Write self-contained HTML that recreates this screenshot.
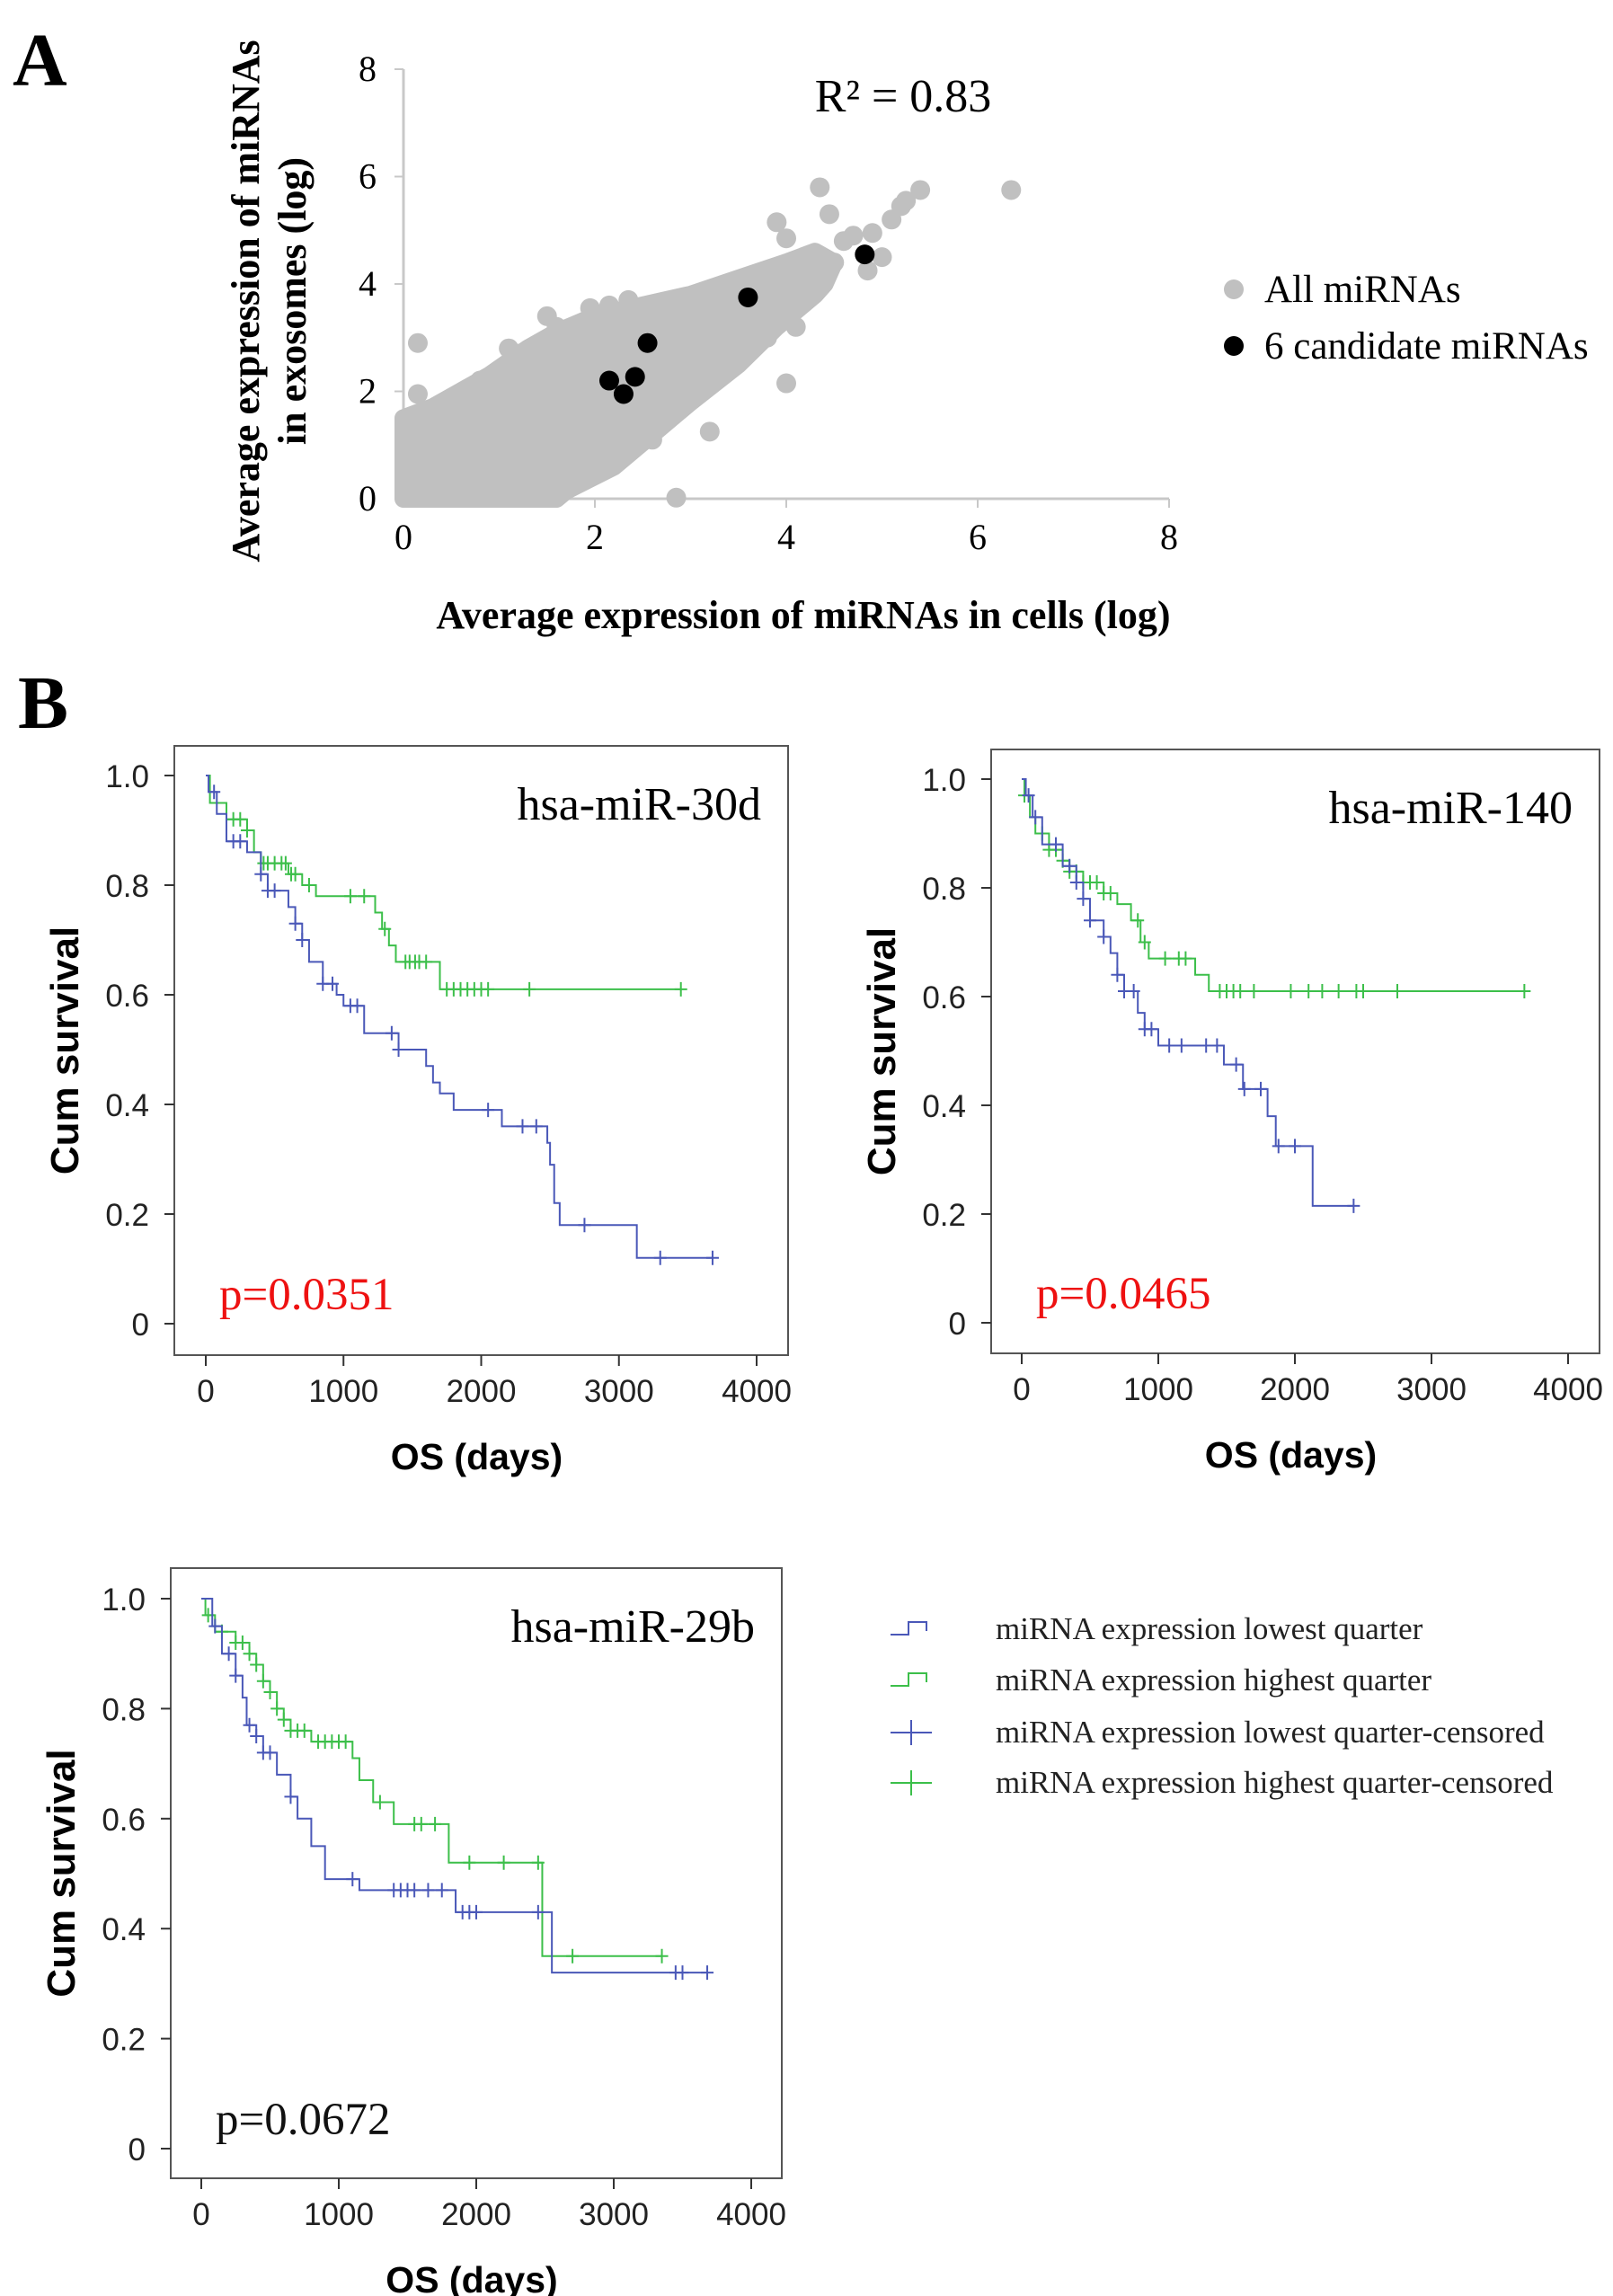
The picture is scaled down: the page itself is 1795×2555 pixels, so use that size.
<!DOCTYPE html>
<html><head><meta charset="utf-8">
<style>
html,body{margin:0;padding:0;background:#fff;}
svg{display:block;}
.serif{font-family:"Liberation Serif","Times New Roman",serif;}
.sans{font-family:"Liberation Sans",Arial,sans-serif;}
</style></head>
<body>
<svg id="fig" width="1795" height="2555" viewBox="0 0 1795 2555" xmlns="http://www.w3.org/2000/svg">
  <rect x="0" y="0" width="1795" height="2555" fill="#fff"/>
  <text x="14" y="95" class="serif" font-size="84" font-weight="bold">A</text>
  <text x="20" y="810" class="serif" font-size="84" font-weight="bold">B</text>
  <g id="scatter"></g>
  <g id="km1"></g>
  <g id="km2"></g>
  <g id="km3"></g>
  <g id="legendB"></g>
</svg>
<script>
const NS="http://www.w3.org/2000/svg";
// ---------- Scatter data ----------
const scatterTicks=[0,2,4,6,8];
const denseHullX=[0,0,0.3,0.9,1.3,1.6,2.0,2.5,3.0,3.5,4.0,4.3,4.5,4.4,4.3,3.9,3.5,3.0,2.6,2.2,1.7,1.6];
const denseHullY=[0,1.5,1.7,2.3,2.8,3.1,3.4,3.6,3.8,4.1,4.4,4.6,4.4,4.0,3.8,3.2,2.5,1.8,1.2,0.6,0.15,0];
const allX=[0.15,0.15,2.85,3.2,4.0,4.35,5.4,6.35,5.2,5.1,4.45,3.9,4.0,4.9,5.0,4.85,4.5,1.5,1.95,2.15,2.35,1.2,0.1,1.6,2.6,2.2,3.3,3.6,1.1,1.6,0.5,0.8,1.0,2.8,3.0,3.4,4.2,4.6,1.8,2.0,0.6,0.3,1.4,2.4,3.1,0.2,0.9,1.3,4.7,5.25,3.9,3.5,2.9,2.5,2.1,1.9,4.1,3.8,2.7,1.75];
const allY=[2.9,1.95,0.02,1.25,2.15,5.8,5.75,5.75,5.45,5.2,5.3,5.15,4.85,4.95,4.5,4.25,4.4,3.4,3.55,3.6,3.7,2.7,1.4,2.1,1.1,1.25,3.7,4.0,2.8,3.2,1.8,2.2,2.4,2.4,3.0,3.2,4.2,4.8,2.6,3.3,0.2,0.1,0.4,1.6,2.0,1.2,1.0,0.8,4.9,5.55,3.6,2.9,2.1,1.6,1.0,0.6,3.2,3.0,1.4,0.3];
const candX=[2.15,2.3,2.42,2.55,3.6,4.82];
const candY=[2.2,1.95,2.27,2.9,3.75,4.55];

// ---------- KM data ----------
const km1GreenT=[0,30,150,300,350,400,600,700,800,1230,1280,1330,1380,1420,1700,3450];
const km1GreenS=[1.0,0.95,0.92,0.90,0.86,0.84,0.82,0.80,0.78,0.75,0.72,0.69,0.66,0.66,0.61,0.61];
const km1GreenC=[200,250,300,420,450,500,550,580,620,650,750,1050,1150,1300,1450,1480,1520,1550,1600,1750,1800,1850,1900,1950,2000,2050,2350,3450];
const km1BlueT=[0,20,80,150,300,400,450,600,650,700,750,850,950,1000,1150,1400,1600,1650,1700,1800,2150,2480,2500,2530,2570,3130,3680];
const km1BlueS=[1.0,0.97,0.93,0.88,0.86,0.82,0.79,0.76,0.73,0.70,0.66,0.62,0.60,0.58,0.53,0.50,0.47,0.44,0.42,0.39,0.36,0.33,0.29,0.22,0.18,0.12,0.12];
const km1BlueC=[60,200,250,400,450,500,650,700,850,920,1050,1100,1350,1400,2050,2300,2400,2750,3300,3680];

const km2GreenT=[0,20,60,100,200,300,350,450,600,700,800,870,930,1270,1370,3680];
const km2GreenS=[1.0,0.97,0.93,0.90,0.87,0.85,0.83,0.81,0.79,0.77,0.74,0.70,0.67,0.64,0.61,0.61];
const km2GreenC=[20,150,200,250,300,350,400,450,500,550,600,650,850,900,1050,1150,1200,1450,1500,1550,1600,1700,1970,2100,2200,2320,2450,2500,2750,3680];
const km2BlueT=[0,30,80,150,300,400,450,500,600,650,700,750,850,900,1000,1480,1620,1800,1860,2130,2430];
const km2BlueS=[1.0,0.97,0.93,0.88,0.84,0.81,0.78,0.74,0.71,0.68,0.64,0.61,0.57,0.54,0.51,0.475,0.43,0.38,0.325,0.215,0.215];
const km2BlueC=[50,100,250,350,400,450,500,600,700,750,820,900,950,1080,1170,1350,1430,1570,1630,1750,1880,2000,2430];

const km3GreenT=[0,30,100,250,350,400,450,500,550,600,650,800,1100,1150,1250,1400,1800,2480,3350];
const km3GreenS=[1.0,0.97,0.94,0.92,0.90,0.88,0.85,0.83,0.80,0.78,0.76,0.74,0.71,0.67,0.63,0.59,0.52,0.35,0.35];
const km3GreenC=[50,150,250,300,350,400,450,500,550,600,650,700,750,850,900,950,1000,1050,1300,1550,1600,1700,1950,2200,2450,2700,3350];
const km3BlueT=[0,80,150,250,300,330,400,450,550,650,700,800,900,1150,1850,2550,3680];
const km3BlueS=[1.0,0.95,0.90,0.86,0.82,0.77,0.75,0.72,0.68,0.64,0.60,0.55,0.49,0.47,0.43,0.32,0.32];
const km3BlueC=[100,200,250,350,400,450,500,650,1100,1400,1450,1500,1550,1650,1750,1900,1950,2000,2450,3450,3500,3680];

const kmXTicks=[0,1000,2000,3000,4000];
const kmYTicks=[0,0.2,0.4,0.6,0.8,1.0];
const kmYTickLabels=["0","0.2","0.4","0.6","0.8","1.0"];

function mk(tag,attrs,parent){const e=document.createElementNS(NS,tag);for(const k in attrs)e.setAttribute(k,attrs[k]);parent.appendChild(e);return e;}

// ---------- Scatter ----------
(function(){
  const g=document.getElementById('scatter');
  const X0=449,X1=1301,Y0=555,Y1=77;
  const sx=v=>X0+(X1-X0)*v/8, sy=v=>Y0+(Y1-Y0)*v/8;
  let ax=mk('line',{x1:X0,y1:Y0,x2:X1,y2:Y0,stroke:'#c8c8c8','stroke-width':3},g);
  
  
  let ay=mk('line',{x1:X0,y1:Y0,x2:X0,y2:Y1,stroke:'#c8c8c8','stroke-width':3},g);
  
  
  scatterTicks.forEach(t=>{
    let tk=mk('line',{x1:sx(t),y1:Y0,x2:sx(t),y2:Y0+10,stroke:'#c8c8c8','stroke-width':2},g);
    
    
    let tl=mk('text',{x:sx(t),y:Y0+56,'text-anchor':'middle','font-size':40,class:'serif'},g);tl.textContent=t;
    
    
    let tk2=mk('line',{x1:X0-10,y1:sy(t),x2:X0,y2:sy(t),stroke:'#c8c8c8','stroke-width':2},g);
    
    
    let tl2=mk('text',{x:X0-30,y:sy(t)+13,'text-anchor':'end','font-size':40,class:'serif'},g);tl2.textContent=t;
    
    
  });
  const pts=denseHullX.map((v,i)=>sx(v)+','+sy(denseHullY[i])).join(' ');
  let hull=mk('polygon',{points:pts,fill:'#c0c0c0',stroke:'#c0c0c0','stroke-width':20,'stroke-linejoin':'round'},g);
  
  
  allX.forEach((v,i)=>{
    let c=mk('circle',{cx:sx(v),cy:sy(allY[i]),r:11,fill:'#c0c0c0'},g);
    
    
  });
  candX.forEach((v,i)=>{
    let c=mk('circle',{cx:sx(v),cy:sy(candY[i]),r:11,fill:'#000'},g);
    
    
  });
  let r2=mk('text',{x:1005,y:124,'text-anchor':'middle','font-size':52,class:'serif'},g);r2.textContent='R² = 0.83';
  
  
  let xt=mk('text',{x:894,y:699,'text-anchor':'middle','font-size':44,'font-weight':'bold',class:'serif'},g);xt.textContent='Average expression of  miRNAs in cells (log)';
  
  
  let yt1=mk('text',{x:0,y:0,'text-anchor':'middle','font-size':44,'font-weight':'bold',class:'serif',transform:'translate(288,335) rotate(-90)'},g);yt1.textContent='Average expression of miRNAs';
  
  
  let yt2=mk('text',{x:0,y:0,'text-anchor':'middle','font-size':44,'font-weight':'bold',class:'serif',transform:'translate(340,335) rotate(-90)'},g);yt2.textContent='in exosomes (log)';
  
  
  const leg=[['All miRNAs','#c0c0c0',322],['6 candidate miRNAs','#000',385]];
  leg.forEach(l=>{
    let c=mk('circle',{cx:1373,cy:l[2],r:11,fill:l[1]},g);
    
    
    let t=mk('text',{x:1407,y:l[2]+14,'font-size':43,class:'serif'},g);t.textContent=l[0];
    
    
  });
})();

// ---------- KM plots ----------
const BLUE='#4a58b8', GREEN='#3cbf4a';
function km(id,box,title,pText,pColor,gT,gS,gC,bT,bS,bC){
  const g=document.getElementById(id);
  const {L,R,T,B,x0,x4,y1,y0}=box;
  const sx=v=>x0+(x4-x0)*v/4000, sy=v=>y0+(y1-y0)*v;
  let fr=mk('rect',{x:L,y:T,width:R-L,height:B-T,fill:'none',stroke:'#555','stroke-width':2},g);
  
  
  kmXTicks.forEach(t=>{
    let tk=mk('line',{x1:sx(t),y1:B,x2:sx(t),y2:B+12,stroke:'#333','stroke-width':2},g);
    
    
    let tl=mk('text',{x:sx(t),y:B+52,'text-anchor':'middle','font-size':35,class:'sans',fill:'#222'},g);tl.textContent=t;
    
    
  });
  kmYTicks.forEach((t,i)=>{
    let tk=mk('line',{x1:L-11,y1:sy(t),x2:L,y2:sy(t),stroke:'#333','stroke-width':2},g);
    
    
    let tl=mk('text',{x:L-28,y:sy(t)+13,'text-anchor':'end','font-size':35,class:'sans',fill:'#222'},g);tl.textContent=kmYTickLabels[i];
    
    
  });
  function curve(T_,S_,C_,col,name){
    let d='M'+sx(T_[0])+','+sy(S_[0]);
    for(let i=1;i<T_.length;i++){d+=' H'+sx(T_[i])+' V'+sy(S_[i]);}
    let p=mk('path',{d:d,fill:'none',stroke:col,'stroke-width':2},g);
    
    
    C_.forEach(c=>{
      let s=S_[0];for(let i=0;i<T_.length;i++){if(T_[i]<=c)s=S_[i];}
      let m=mk('path',{d:'M'+(sx(c)-7)+','+sy(s)+' h14 M'+sx(c)+','+(sy(s)-8)+' v16',stroke:col,'stroke-width':2,fill:'none'},g);
      
      
    });
  }
  curve(gT,gS,gC,GREEN,'highest-quarter');
  curve(bT,bS,bC,BLUE,'lowest-quarter');
  let tt=mk('text',{x:R-30,y:T+82,'text-anchor':'end','font-size':52,class:'serif'},g);tt.textContent=title;
  
  
  let pv=mk('text',{x:L+50,y:sy(0)-16,'font-size':51,class:'serif',fill:pColor},g);pv.textContent=pText;
  
  
  let xt=mk('text',{x:(L+R)/2-5,y:B+127,'text-anchor':'middle','font-size':41,'font-weight':'bold',class:'sans'},g);xt.textContent='OS (days)';
  
  
  let yt=mk('text',{x:0,y:0,'text-anchor':'middle','font-size':44,'font-weight':'bold',class:'sans',transform:'translate('+(L-107)+','+((T+B)/2)+') rotate(-90)'},g);yt.textContent='Cum survival';
  
  
}
km('km1',{L:194,R:877,T:830,B:1508,x0:229,x4:842,y1:863,y0:1473},'hsa-miR-30d','p=0.0351','#ee1111',km1GreenT,km1GreenS,km1GreenC,km1BlueT,km1BlueS,km1BlueC);
km('km2',{L:1103,R:1780,T:834,B:1506,x0:1137,x4:1745,y1:867,y0:1472},'hsa-miR-140','p=0.0465','#ee1111',km2GreenT,km2GreenS,km2GreenC,km2BlueT,km2BlueS,km2BlueC);
km('km3',{L:190,R:870,T:1745,B:2424,x0:224,x4:836,y1:1779,y0:2391},'hsa-miR-29b','p=0.0672','#111',km3GreenT,km3GreenS,km3GreenC,km3BlueT,km3BlueS,km3BlueC);

// ---------- Legend ----------
(function(){
  const g=document.getElementById('legendB');
  const labels=['miRNA expression lowest quarter','miRNA expression highest quarter','miRNA expression lowest quarter-censored','miRNA expression highest quarter-censored'];
  const cols=[BLUE,GREEN,BLUE,GREEN];
  const ys=[1813,1870,1928,1984];
  labels.forEach((lb,i)=>{
    const y=ys[i];
    let ic;
    if(i<2){ic=mk('path',{d:'M991,'+(y+6)+' h20 v-14 h20 v10',stroke:cols[i],'stroke-width':2,fill:'none'},g);}
    else{ic=mk('path',{d:'M991,'+y+' h46 M1014,'+(y-14)+' v28',stroke:cols[i],'stroke-width':2,fill:'none'},g);}
    
    
    let t=mk('text',{x:1108,y:y+11,'font-size':35,class:'serif',fill:'#222'},g);t.textContent=lb;
    
    
  });
})();
</script>
</body></html>
